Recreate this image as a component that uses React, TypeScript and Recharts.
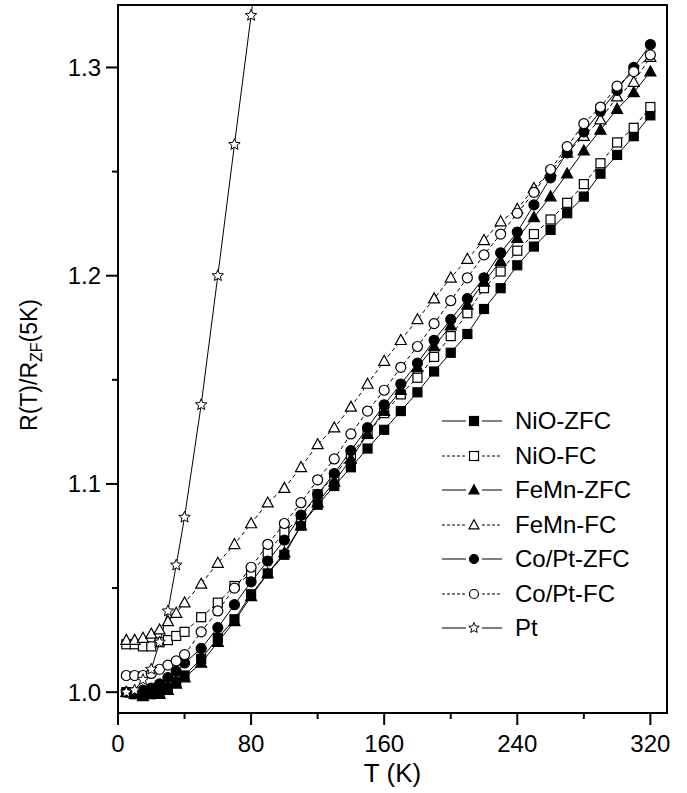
import React from 'react';
import { LineChart, Line, XAxis, YAxis, Legend, ReferenceArea } from 'recharts';

const temps = [5, 10, 15, 20, 25, 30, 35, 40, 50, 60, 70, 80, 90, 100, 110, 120, 130, 140, 150, 160, 170, 180, 190, 200, 210, 220, 230, 240, 250, 260, 270, 280, 290, 300, 310, 320];

const nioZfc = [1.0, 0.999, 0.999, 0.999, 1.0, 1.002, 1.005, 1.008, 1.016, 1.026, 1.035, 1.047, 1.057, 1.066, 1.08, 1.09, 1.099, 1.108, 1.117, 1.126, 1.135, 1.144, 1.154, 1.163, 1.172, 1.184, 1.194, 1.205, 1.214, 1.222, 1.23, 1.238, 1.249, 1.258, 1.267, 1.277];
const nioFc = [1.023, 1.023, 1.022, 1.022, 1.024, 1.025, 1.027, 1.029, 1.036, 1.043, 1.051, 1.057, 1.067, 1.077, 1.084, 1.095, 1.104, 1.114, 1.124, 1.134, 1.143, 1.151, 1.161, 1.171, 1.182, 1.194, 1.202, 1.212, 1.22, 1.227, 1.235, 1.244, 1.254, 1.264, 1.271, 1.281];
const femnZfc = [1.0, 0.999, 0.998, 0.999, 0.999, 1.001, 1.004, 1.007, 1.014, 1.024, 1.034, 1.046, 1.057, 1.067, 1.08, 1.091, 1.101, 1.112, 1.124, 1.135, 1.145, 1.156, 1.166, 1.176, 1.186, 1.197, 1.207, 1.218, 1.228, 1.238, 1.249, 1.26, 1.27, 1.28, 1.288, 1.298];
const femnFc = [1.025, 1.025, 1.026, 1.028, 1.03, 1.034, 1.038, 1.043, 1.052, 1.062, 1.071, 1.081, 1.091, 1.098, 1.108, 1.119, 1.127, 1.137, 1.148, 1.159, 1.169, 1.179, 1.189, 1.199, 1.208, 1.217, 1.226, 1.232, 1.242, 1.25, 1.259, 1.267, 1.275, 1.286, 1.293, 1.305];
const coptZfc = [1.0, 1.0, 1.001, 1.002, 1.004, 1.007, 1.01, 1.014, 1.021, 1.031, 1.042, 1.053, 1.063, 1.073, 1.085, 1.095, 1.105, 1.116, 1.127, 1.138, 1.148, 1.158, 1.169, 1.179, 1.189, 1.199, 1.211, 1.221, 1.234, 1.247, 1.259, 1.269, 1.279, 1.289, 1.3, 1.311];
const coptFc = [1.008, 1.008, 1.008, 1.009, 1.011, 1.013, 1.015, 1.018, 1.029, 1.039, 1.05, 1.06, 1.071, 1.081, 1.091, 1.102, 1.112, 1.124, 1.135, 1.145, 1.156, 1.166, 1.177, 1.188, 1.199, 1.21, 1.22, 1.23, 1.24, 1.251, 1.262, 1.273, 1.281, 1.291, 1.298, 1.306];
const pt = [1.0, 1.001, 1.006, 1.011, 1.024, 1.039, 1.061, 1.084, 1.138, 1.2, 1.263, 1.325, 1.388];

const xTicks = [0, 40, 80, 120, 160, 200, 240, 280, 320];
const yTicks = [1.0, 1.05, 1.1, 1.15, 1.2, 1.25, 1.3];

const series = [
  { key: 'nioZfc', name: 'NiO-ZFC', values: nioZfc, shape: 'square', filled: true, dashed: false },
  { key: 'nioFc', name: 'NiO-FC', values: nioFc, shape: 'square', filled: false, dashed: true },
  { key: 'femnZfc', name: 'FeMn-ZFC', values: femnZfc, shape: 'triangle', filled: true, dashed: false },
  { key: 'femnFc', name: 'FeMn-FC', values: femnFc, shape: 'triangle', filled: false, dashed: true },
  { key: 'coptZfc', name: 'Co/Pt-ZFC', values: coptZfc, shape: 'circle', filled: true, dashed: false },
  { key: 'coptFc', name: 'Co/Pt-FC', values: coptFc, shape: 'circle', filled: false, dashed: true },
  { key: 'pt', name: 'Pt', values: pt, shape: 'star', filled: false, dashed: false },
];

const data = temps.map((t, i) => {
  const row: any = { T: t };
  series.forEach((s) => {
    row[s.key] = s.values[i] ?? null;
  });
  return row;
});

const FONT = '"Liberation Sans", Arial, Helvetica, sans-serif';

function Marker({ cx, cy, shape, filled, size }: any) {
  if (cx == null || cy == null || isNaN(cy)) return null;
  const fill = filled ? '#000' : '#fff';
  const h = size / 2;
  if (shape === 'square') {
    return <rect x={cx - h} y={cy - h} width={size} height={size} fill={fill} stroke="#000" strokeWidth={1.2} />;
  }
  if (shape === 'triangle') {
    const pts = `${cx},${cy - h * 1.15} ${cx + h * 1.1},${cy + h * 0.85} ${cx - h * 1.1},${cy + h * 0.85}`;
    return <polygon points={pts} fill={fill} stroke="#000" strokeWidth={1.2} />;
  }
  if (shape === 'circle') {
    return <circle cx={cx} cy={cy} r={h} fill={fill} stroke="#000" strokeWidth={1.2} />;
  }
  // star
  const pts: string[] = [];
  for (let k = 0; k < 10; k++) {
    const r = k % 2 === 0 ? h : h * 0.45;
    const a = -Math.PI / 2 + (k * Math.PI) / 5;
    pts.push(`${cx + r * Math.cos(a)},${cy + r * Math.sin(a)}`);
  }
  return <polygon points={pts.join(' ')} fill={fill} stroke="#000" strokeWidth={1} />;
}

const sizeOf = (shape: string) => (shape === 'square' ? 9 : shape === 'star' ? 12 : 10);

function XTick({ x, y, payload }: any) {
  const major = payload.value % 80 === 0;
  return (
    <g>
      <line x1={x} y1={y} x2={x} y2={y + (major ? 12 : 6)} stroke="#000" strokeWidth={2} />
      {major && (
        <text x={x} y={y + 39} textAnchor="middle" fontSize={24} fontFamily={FONT} fill="#000">
          {payload.value}
        </text>
      )}
    </g>
  );
}

function YTick({ x, y, payload }: any) {
  const v = payload.value;
  const major = Math.abs(v * 10 - Math.round(v * 10)) < 1e-6;
  return (
    <g>
      <line x1={x} y1={y} x2={x - (major ? 12 : 6)} y2={y} stroke="#000" strokeWidth={2} />
      {major && (
        <text x={x - 17} y={y + 8.5} textAnchor="end" fontSize={24} fontFamily={FONT} fill="#000">
          {v.toFixed(1)}
        </text>
      )}
    </g>
  );
}

function YLabel() {
  const cx = 37;
  const cy = 365;
  return (
    <text x={cx} y={cy} transform={`rotate(-90 ${cx} ${cy})`} textAnchor="middle" fontSize={23} fontFamily={FONT} fill="#000">
      R(T)/R
      <tspan fontSize={16} dy={5}>ZF</tspan>
      <tspan dy={-5}>(5K)</tspan>
    </text>
  );
}

function LegendBox() {
  return (
    <div style={{ fontFamily: FONT, fontSize: 24, color: '#000' }}>
      {series.map((s) => (
        <div key={s.key} style={{ display: 'flex', alignItems: 'center', height: 34.5 }}>
          <svg width={64} height={20} style={{ display: 'block' }}>
            <line x1={2} x2={26} y1={10} y2={10} stroke="#000" strokeWidth={1} strokeDasharray={s.dashed ? '3 2' : undefined} />
            <line x1={42} x2={62} y1={10} y2={10} stroke="#000" strokeWidth={1} strokeDasharray={s.dashed ? '3 2' : undefined} />
            <Marker cx={34} cy={10} shape={s.shape} filled={s.filled} size={s.shape === 'star' ? 11 : 9} />
          </svg>
          <span style={{ marginLeft: 11, lineHeight: 1 }}>{s.name}</span>
        </div>
      ))}
    </div>
  );
}

export default function App() {
  return (
    <div style={{ position: 'absolute', left: 0, top: 0, background: '#fff' }}>
      <LineChart width={687} height={793} data={data} margin={{ top: 5, right: 20, bottom: 0, left: 0 }}>
        <XAxis
          dataKey="T"
          type="number"
          domain={[0, 330]}
          ticks={xTicks}
          allowDataOverflow
          height={80}
          tickSize={0}
          tickMargin={0}
          tickLine={false}
          axisLine={{ stroke: '#000', strokeWidth: 2 }}
          tick={(p: any) => <XTick {...p} />}
          label={{ value: 'T (K)', position: 'insideBottom', offset: 11, fontSize: 26, fontFamily: FONT, fill: '#000' }}
        />
        <YAxis
          type="number"
          domain={[0.99, 1.33]}
          ticks={yTicks}
          allowDataOverflow
          width={118}
          tickSize={0}
          tickMargin={0}
          tickLine={false}
          axisLine={{ stroke: '#000', strokeWidth: 2 }}
          tick={(p: any) => <YTick {...p} />}
          label={{ content: () => <YLabel /> }}
        />
        <ReferenceArea x1={0} x2={330} y1={0.99} y2={1.33} fill="none" stroke="#000" strokeWidth={2} />
        {series.map((s) => (
          <Line
            key={s.key}
            dataKey={s.key}
            name={s.name}
            type="linear"
            stroke="#000"
            strokeWidth={1}
            strokeDasharray={s.dashed ? '4 3' : undefined}
            connectNulls={false}
            isAnimationActive={false}
            dot={(p: any) => (
              <Marker key={`${s.key}-${p.index}`} cx={p.cx} cy={p.cy} shape={s.shape} filled={s.filled} size={sizeOf(s.shape)} />
            )}
            activeDot={false}
          />
        ))}
        <Legend
          layout="vertical"
          align="center"
          verticalAlign="middle"
          content={() => <LegendBox />}
          wrapperStyle={{ position: 'absolute', left: 440, top: 404, width: 230, height: 'auto' }}
        />
      </LineChart>
    </div>
  );
}
